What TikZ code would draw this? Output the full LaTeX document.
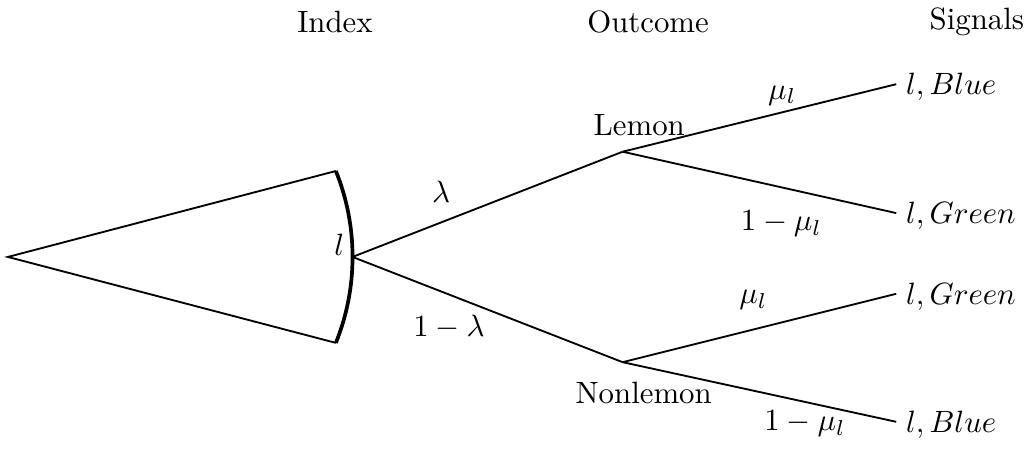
\documentclass[tikz,border=0pt]{standalone}
\usetikzlibrary{calc, positioning}

\tikzset{
  branch/.style={semithick},
  leaf/.style={anchor=west, inner sep=3pt},
  prob/.style={font=\normalsize},
  header/.style={font=\normalsize}
}

\begin{document}
\begin{tikzpicture}
\useasboundingbox (-0.09,-2.18) rectangle (11.61,2.93);

% Column headers
\node[header] (hIndex) at (3.73,2.68) {Index};
\node[header] (hOutcome) at (7.30,2.68) {Outcome};
\node[header] (hSignals) at (11.05,2.68) {Signals};

% Fan of the index
\coordinate (tip) at (0,0);
\coordinate (fanTop) at (3.74,0.98);
\coordinate (fanBot) at (3.74,-0.98);
\coordinate (idx) at (3.93,0);
\draw[branch] (fanTop) -- (tip) -- (fanBot);
\draw[very thick] (fanTop) arc[start angle=21.97, end angle=-21.97, radius=2.62];
\node (lIdx) at (3.78,0.14) {$l$};

% Outcome nodes
\coordinate (lemon) at (7.01,1.20);
\coordinate (nonlemon) at (7.01,-1.20);
\draw[branch] (idx) -- (lemon);
\draw[branch] (idx) -- (nonlemon);
\node (lemonLab) at (7.20,1.50) {Lemon};
\node (nonlemonLab) at (7.25,-1.55) {Nonlemon};
\node[prob] (pLam) at (4.94,0.74) {$\lambda$};
\node[prob] (pNotLam) at (5.03,-0.80) {$1-\lambda$};

% Signals
\node[leaf] (sigA) at (10.13,1.94) {$l, Blue$};
\node[leaf] (sigB) at (10.13,0.47) {$l, Green$};
\node[leaf] (sigC) at (10.13,-0.45) {$l, Green$};
\node[leaf] (sigD) at (10.13,-1.91) {$l, Blue$};
\draw[branch] (lemon) -- ([yshift=0.03cm]sigA.west);
\draw[branch] (lemon) -- ([yshift=0.03cm]sigB.west);
\draw[branch] (nonlemon) -- ([yshift=0.03cm]sigC.west);
\draw[branch] (nonlemon) -- ([yshift=0.03cm]sigD.west);

\node[prob] (pA) at (8.83,1.84) {$\mu_l$};
\node[prob] (pB) at (8.82,0.38) {$1-\mu_l$};
\node[prob] (pC) at (8.50,-0.49) {$\mu_l$};
\node[prob] (pD) at (9.09,-1.90) {$1-\mu_l$};

\end{tikzpicture}
\end{document}
